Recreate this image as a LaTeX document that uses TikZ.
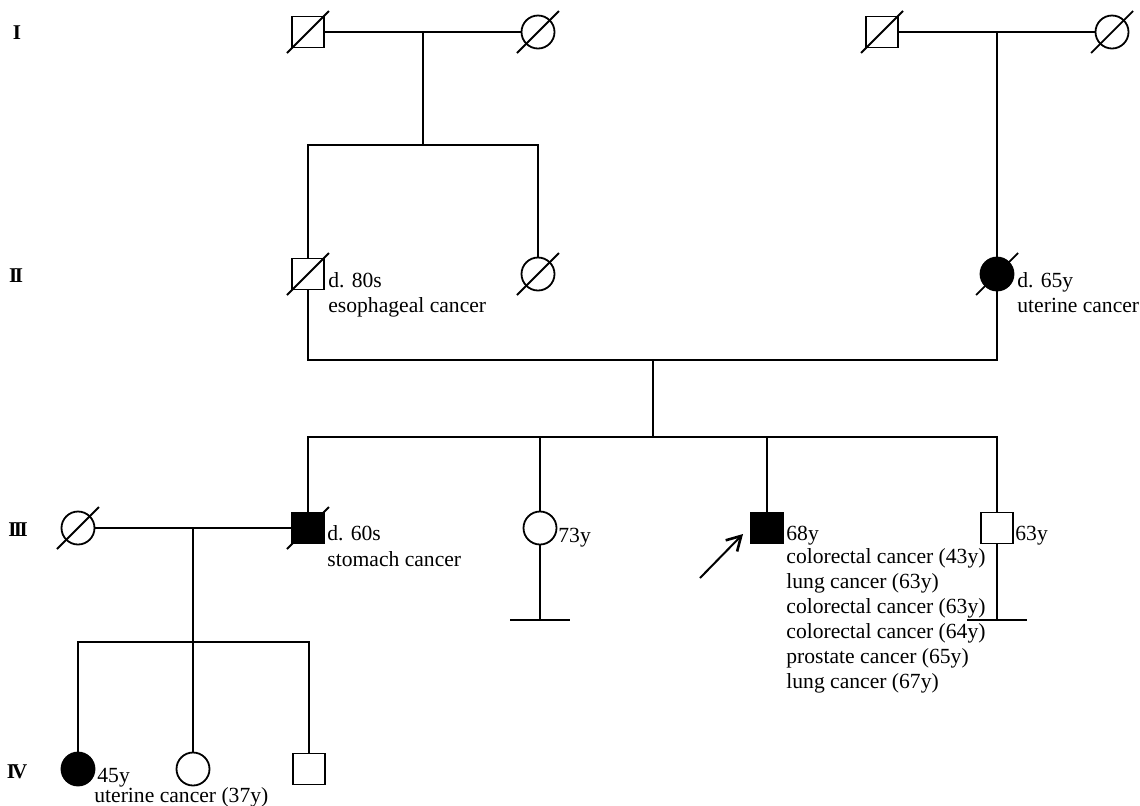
\documentclass[tikz,border=0pt]{standalone}
\usepackage{fontspec}
\setmainfont{Liberation Serif}
\usetikzlibrary{arrows.meta}
\tikzset{
  male/.style={draw, line width=0.9pt, rectangle, minimum width=16pt, minimum height=15.5pt, inner sep=0pt},
  female/.style={draw, line width=0.9pt, circle, minimum size=16.5pt, inner sep=0pt},
  aff/.style={fill=black},
  slash/.style={line width=0.9pt},
  conn/.style={line width=1pt},
  lbl/.style={anchor=base west, inner sep=0pt, font=\fontsize{10.8pt}{12pt}\selectfont},
  gen/.style={anchor=center, inner sep=0pt, font=\fontsize{10.5pt}{12pt}\selectfont\bfseries},
}
\newcommand\dslash[1]{\draw[slash] ([shift={(-21,21)}]#1.center) -- ([shift={(21,-21)}]#1.center);}
\begin{document}
\begin{tikzpicture}[x=0.5pt, y=-0.5pt]
\useasboundingbox (0,0) rectangle (1140,805);
% generation labels
\node[gen] (g1) at (17,33) {I};
\node[gen] (g2) at (16,276) {I\kern-0.12em I};
\node[gen] (g3) at (18,530) {I\kern-0.12em I\kern-0.12em I};
\node[gen] (g4) at (17,772) {I\kern-0.14em V};
% generation I
\node[male] (Ia) at (308,32) {};
\node[female] (Ib) at (538,32) {};
\node[male] (Ic) at (882,32) {};
\node[female] (Id) at (1112,32) {};
% generation II
\node[male] (IIa) at (308,274) {};
\node[female] (IIb) at (538,274) {};
\node[female, aff] (IIc) at (997,274) {};
% generation III
\node[female] (IIIa) at (78,528) {};
\node[male, aff] (IIIb) at (308,528) {};
\node[female] (IIIc) at (540,528) {};
\node[male, aff] (IIId) at (767,528) {};
\node[male] (IIIe) at (997,528) {};
% generation IV
\node[female, aff] (IVa) at (78,769) {};
\node[female] (IVb) at (193,769) {};
\node[male] (IVc) at (309,769) {};
% deceased slashes
\dslash{Ia}\dslash{Ib}\dslash{Ic}\dslash{Id}
\dslash{IIa}\dslash{IIb}\dslash{IIc}
\dslash{IIIa}\dslash{IIIb}
% coordinates
\coordinate (m1) at (423,32);
\coordinate (s1) at (423,145);
\coordinate (m2) at (997,32);
\coordinate (m3) at (653,360);
\coordinate (s3) at (653,437);
\coordinate (m4) at (193,528);
\coordinate (s4) at (193,642);
\coordinate (b1) at (540,620);
\coordinate (b2) at (997,620);
% connectors gen I
\draw[conn] (Ia.east) -- (Ib.west);
\draw[conn] (m1) -- (s1);
\draw[conn] (IIa.north) |- (s1) -| (IIb.north);
\draw[conn] (Ic.east) -- (Id.west);
\draw[conn] (m2) -- (IIc.north);
% connectors gen II
\draw[conn] (IIa.south) |- (m3) -| (IIc.south);
\draw[conn] (m3) -- (s3);
\draw[conn] (IIIb.north) |- (s3) -| (IIIe.north);
\draw[conn] (IIIc.north) -- (IIIc.north |- s3);
\draw[conn] (IIId.north) -- (IIId.north |- s3);
% connectors gen III
\draw[conn] (IIIa.east) -- (IIIb.west);
\draw[conn] (m4) -- (IVb.north);
\draw[conn] (IVa.north) |- (s4) -| (IVc.north);
\draw[conn] (IIIc.south) -- (b1);
\draw[conn] ([xshift=-15pt]b1) -- ([xshift=15pt]b1);
\draw[conn] (IIIe.south) -- (b2);
\draw[conn] ([xshift=-15pt]b2) -- ([xshift=15pt]b2);
% proband arrow
\coordinate (at) at (700,578);
\coordinate (ah) at (743,534);
\draw[conn, -{Straight Barb[length=7pt, width=8pt, line width=1.3pt]}] (at) -- (ah);
% labels
\node[lbl] (t1) at (328,287) {d. 80s};
\node[lbl] (t2) at (328,312) {esophageal cancer};
\node[lbl] (t3) at (1017,287) {d. 65y};
\node[lbl] (t4) at (1017,312) {uterine cancer};
\node[lbl] (t5) at (327,540) {d. 60s};
\node[lbl] (t6) at (327,566) {stomach cancer};
\node[lbl] (t7) at (558,542) {73y};
\node[lbl] (t8) at (786,540) {68y};
\node[lbl] (t9) at (786,563) {colorectal cancer (43y)};
\node[lbl] (t10) at (786,588) {lung cancer (63y)};
\node[lbl] (t11) at (786,613) {colorectal cancer (63y)};
\node[lbl] (t12) at (786,638) {colorectal cancer (64y)};
\node[lbl] (t13) at (786,663) {prostate cancer (65y)};
\node[lbl] (t14) at (786,688) {lung cancer (67y)};
\node[lbl] (t15) at (1015,540) {63y};
\node[lbl] (t16) at (97,782) {45y};
\node[lbl] (t17) at (94,802) {uterine cancer (37y)};
\end{tikzpicture}
\end{document}
